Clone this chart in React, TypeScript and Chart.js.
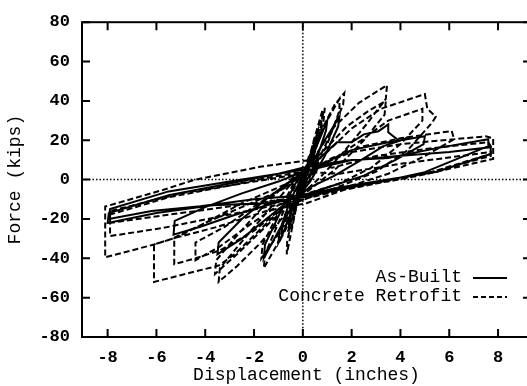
import React, { useEffect, useRef } from 'react';
import { Chart, registerables } from 'chart.js';

Chart.register(...registerables);

// ---- data ----
const xTicks = [-8, -6, -4, -2, 0, 2, 4, 6, 8];
const yTicks = [-80, -60, -40, -20, 0, 20, 40, 60, 80];
const seriesNames = ['As-Built', 'Concrete Retrofit'];
const xTitle = 'Displacement (inches)';
const yTitle = 'Force (kips)';

// As-Built hysteresis path (displacement in, force kips)
const asBuiltPoints: [number, number][] = [
  [0, 0], [0.15, 6], [0.3, 13], [0.28, 10], [0.05, 1], [-0.15, -6], [-0.3, -13], [-0.28, -10], [-0.05, 0],
  [0.15, 5], [0.35, 14], [0.6, 24], [0.57, 20], [0.2, 4], [-0.1, -6], [-0.35, -16], [-0.6, -26], [-0.57, -21], [-0.2, -5], [0.05, 2],
  [0.25, 7], [0.6, 18], [1.0, 30], [0.95, 25], [0.5, 8], [0.05, -3], [-0.4, -14], [-0.8, -27], [-1.0, -32], [-0.95, -26], [-0.5, -10], [0, 2],
  [0.4, 9], [0.9, 20], [1.5, 32], [1.45, 27], [0.9, 12], [0.3, -1], [-0.3, -10], [-0.9, -24], [-1.6, -40], [-1.55, -33], [-0.9, -16], [-0.3, -2], [0.1, 5],
  [0.6, 10], [1.4, 19], [2.0, 19], [2.5, 23], [3.1, 24.6], [3.5, 28], [3.5, 24], [3.95, 19.7], [3.3, 17], [2.4, 10], [1.3, 2], [0.3, -4],
  [-0.5, -10], [-1.5, -20], [-2.5, -30], [-3.5, -38], [-3.45, -32], [-2.5, -20], [-1.3, -8], [-0.3, 1], [0.3, 7],
  [0.8, 8], [2.0, 15], [3.5, 19], [5.0, 22], [4.95, 18], [3.8, 10], [2.5, 2], [1.0, -4], [0, -8],
  [-1.2, -12], [-2.8, -18], [-4.2, -24], [-5.3, -28], [-5.25, -21], [-4, -14], [-2.5, -7], [-1, -1], [0, 4],
  [1.0, 7], [2.0, 10], [3.5, 11], [5.5, 16], [7.6, 20.5], [7.6, 17], [5, 3.8], [3.5, -0.3], [1.5, -5], [0, -9],
  [-1.5, -12], [-3.7, -13], [-6, -17], [-8, -22], [-7.95, -17], [-5.5, -8], [-3, -2], [-1, 3], [0, 6],
  [1.8, 9.7], [3.9, 12], [6.0, 14], [7.7, 16.5], [7.7, 13], [5.5, 4], [3.5, 0], [1.5, -4], [0, -8],
  [-2, -10], [-4.2, -13.5], [-6.2, -16], [-7.95, -20], [-7.9, -15], [-5.5, -6], [-3, -1], [-1, 3], [0, 5],
];

// Concrete Retrofit hysteresis path
const retrofitPoints: [number, number][] = [
  [0, 0], [0.12, 6], [0.25, 12], [0.24, 9], [0.05, 1], [-0.1, -5], [-0.25, -12], [-0.24, -9], [-0.05, 0],
  [0.1, 4], [0.3, 13], [0.5, 22], [0.48, 18], [0.1, 2], [-0.15, -7], [-0.45, -24], [-0.43, -20], [-0.1, -1],
  [0.15, 5], [0.45, 20], [0.8, 35], [0.78, 29], [0.4, 12], [0.05, -2], [-0.3, -16], [-0.66, -38], [-0.64, -31], [-0.3, -13], [0, 2],
  [0.3, 8], [0.9, 36.5], [0.85, 30], [0.4, 10], [0, -3], [-0.4, -18], [-0.9, -30], [-0.85, -24], [-0.3, -6], [0, 2],
  [0.25, 8], [0.8, 26], [1.3, 38], [1.7, 44], [1.65, 38], [1.1, 22], [0.4, 4], [0, -5], [-0.5, -18], [-1.1, -34], [-1.6, -45], [-1.55, -38], [-1.0, -22], [-0.35, -4], [0, 4],
  [0.3, 9], [0.9, 28], [1.5, 41], [1.5, 35], [1.0, 18], [0.35, 1], [-0.2, -9], [-0.9, -26], [-1.7, -40], [-1.65, -33], [-1.0, -17], [-0.3, 0], [0.1, 6],
  [0.5, 12], [1.3, 27], [2.3, 39], [3.45, 48], [3.4, 41], [2.6, 28], [1.6, 13], [0.7, 1], [0, -7],
  [-0.8, -19], [-1.8, -33], [-2.7, -44], [-3.45, -52], [-3.4, -45], [-2.4, -30], [-1.3, -14], [-0.4, -1], [0.2, 7],
  [0.8, 14], [1.8, 27], [2.7, 35], [3.4, 40], [3.35, 33], [2.5, 20], [1.4, 6], [0.4, -4],
  [-0.6, -13], [-1.7, -26], [-2.7, -38], [-3.6, -48], [-3.55, -41], [-2.6, -27], [-1.5, -12], [-0.5, 0], [0.2, 6],
  [1.0, 14], [2.0, 26], [3.2, 36], [5.0, 43.5], [5.1, 36], [5.45, 32], [5.3, 29], [4.3, 15], [3.0, 4], [1.6, -3], [0.3, -9],
  [-0.8, -14], [-2.0, -26], [-3.4, -36], [-4.4, -40], [-5.27, -43], [-5.27, -29.5], [-4.0, -22], [-2.5, -12], [-1.0, -4], [0, 2],
  [1.2, 10], [2.4, 20], [3.5, 30], [4.9, 36], [4.9, 30], [4.0, 18], [2.8, 6], [1.5, -2], [0.2, -7],
  [-1.0, -13], [-2.3, -24], [-3.4, -34], [-4.4, -41], [-4.4, -32], [-3.2, -24], [-1.8, -12], [-0.5, -2], [0.2, 4],
  [1.2, 11], [2.5, 17], [4.0, 21], [6.1, 24.7], [6.2, 20.5], [5.0, 12], [3.5, 3], [2.0, -3], [0.5, -8],
  [-0.8, -14], [-1.8, -26], [-2.8, -38], [-3.45, -43.7], [-6.1, -52], [-6.1, -33], [-5.2, -29.5], [-4.0, -22], [-2.5, -14], [-1.0, -6], [0, 1],
  [1.0, 9], [2.0, 14], [4.0, 18], [7.5, 22], [7.8, 21], [7.8, 10.5], [4.75, 2], [3.5, -1], [2.4, -2], [0.15, -12],
  [-1.5, -16], [-3.5, -24], [-5.2, -29.5], [-6.1, -33], [-8.1, -39.5], [-8.1, -13.7], [-5.74, -5.3], [-4.5, -0.3], [-1.76, 6.5], [0.15, 9.7],
  [1.2, 6], [3.0, 12], [5.3, 16], [7.6, 19], [7.7, 17], [7.7, 13], [5.3, 4], [3, -2], [1, -7], [0, -10],
  [-1.5, -14], [-3.5, -19], [-5.7, -24.5], [-7.9, -28.7], [-7.9, -17.8], [-5.5, -9], [-3, -3], [-1, 2], [0, 4],
  [1.5, 3], [4, 8], [7.7, 14], [7.7, 12], [5, 3], [2.5, -3], [0.5, -8],
  [-2, -12], [-5, -17], [-7.9, -22], [-7.9, -16], [-5, -7], [-2.5, -2], [0, 3],
];

// ---- layout ----
const W = 540;
const H = 386;
const FONT = '"Liberation Mono", "DejaVu Sans Mono", monospace';
const DASH = [6, 3];
const LINE_W = 2;

const framePlugin = {
  id: 'frame',
  beforeDatasetsDraw(chart: any) {
    const { ctx, chartArea, scales } = chart;
    const { left, right, top, bottom } = chartArea;
    const x0 = scales.x.getPixelForValue(0);
    const y0 = scales.y.getPixelForValue(0);
    ctx.save();
    ctx.strokeStyle = '#000';
    ctx.lineWidth = 1.5;
    ctx.setLineDash([1.5, 2]);
    ctx.beginPath();
    ctx.moveTo(x0, top);
    ctx.lineTo(x0, bottom);
    ctx.moveTo(left, y0);
    ctx.lineTo(right, y0);
    ctx.stroke();
    ctx.restore();
  },
  afterDraw(chart: any) {
    const { ctx, chartArea, scales } = chart;
    const { left, right, top, bottom } = chartArea;
    ctx.save();
    ctx.strokeStyle = '#000';
    ctx.lineWidth = 2;
    ctx.setLineDash([]);
    ctx.strokeRect(left, top, right - left, bottom - top);
    ctx.beginPath();
    const tl = 8;
    for (const v of xTicks) {
      const px = scales.x.getPixelForValue(v);
      ctx.moveTo(px, bottom);
      ctx.lineTo(px, bottom - tl);
      ctx.moveTo(px, top);
      ctx.lineTo(px, top + tl);
    }
    for (const v of yTicks) {
      const py = scales.y.getPixelForValue(v);
      ctx.moveTo(left, py);
      ctx.lineTo(left + tl, py);
      ctx.moveTo(right, py);
      ctx.lineTo(right - tl, py);
    }
    ctx.stroke();

    // legend
    const textRight = 462;
    const lineX1 = 473;
    const lineX2 = 507;
    const rows = [
      { name: seriesNames[0], y: 277, dash: [] as number[] },
      { name: seriesNames[1], y: 296, dash: [5, 3] },
    ];
    ctx.font = `18px ${FONT}`;
    ctx.fillStyle = '#000';
    ctx.textAlign = 'right';
    ctx.textBaseline = 'middle';
    for (const r of rows) {
      ctx.fillText(r.name, textRight, r.y);
      ctx.beginPath();
      ctx.lineWidth = 1.8;
      ctx.setLineDash(r.dash);
      ctx.moveTo(lineX1, r.y + 1);
      ctx.lineTo(lineX2, r.y + 1);
      ctx.stroke();
    }
    ctx.restore();
  },
};

export default function App() {
  const ref = useRef<HTMLCanvasElement | null>(null);

  useEffect(() => {
    if (!ref.current) return;
    const chart = new Chart(ref.current, {
      type: 'scatter',
      data: {
        datasets: [
          {
            label: seriesNames[0],
            data: asBuiltPoints.map(([x, y]) => ({ x, y })),
            showLine: true,
            borderColor: '#000',
            borderWidth: LINE_W,
            pointRadius: 0,
            tension: 0,
            fill: false,
          },
          {
            label: seriesNames[1],
            data: retrofitPoints.map(([x, y]) => ({ x, y })),
            showLine: true,
            borderColor: '#000',
            borderWidth: LINE_W,
            borderDash: DASH,
            pointRadius: 0,
            tension: 0,
            fill: false,
          },
        ],
      },
      options: {
        animation: false,
        responsive: false,
        devicePixelRatio: 1,
        layout: { padding: { top: 18, right: 9, left: 0, bottom: 0 } },
        plugins: {
          legend: { display: false },
          tooltip: { enabled: false },
        },
        events: [],
        scales: {
          x: {
            type: 'linear',
            min: -9.05,
            max: 9.35,
            afterBuildTicks: (s: any) => {
              s.ticks = xTicks.map((v) => ({ value: v }));
            },
            afterFit: (s: any) => {
              s.height = 49;
            },
            grid: { display: false, drawTicks: false },
            border: { display: false },
            ticks: {
              color: '#000',
              padding: 11,
              maxRotation: 0,
              autoSkip: false,
              font: { family: FONT, size: 17, weight: 'bold' },
            },
            title: {
              display: true,
              text: xTitle,
              color: '#000',
              font: { family: FONT, size: 18 },
              padding: { top: 0, bottom: 0 },
            },
          },
          y: {
            type: 'linear',
            min: -80,
            max: 80,
            afterBuildTicks: (s: any) => {
              s.ticks = yTicks.map((v) => ({ value: v }));
            },
            afterFit: (s: any) => {
              s.width = 82;
            },
            grid: { display: false, drawTicks: false },
            border: { display: false },
            ticks: {
              color: '#000',
              padding: 12,
              autoSkip: false,
              font: { family: FONT, size: 17, weight: 'bold' },
            },
            title: {
              display: true,
              text: yTitle,
              color: '#000',
              font: { family: FONT, size: 18 },
              padding: { top: 4, bottom: 0 },
            },
          },
        },
      } as any,
      plugins: [framePlugin],
    });
    return () => chart.destroy();
  }, []);

  return (
    <div style={{ position: 'fixed', left: 0, top: 0, width: W, height: H, overflow: 'hidden', background: '#fff' }}>
      <canvas ref={ref} width={W} height={H} style={{ display: 'block', width: W, height: H }} />
    </div>
  );
}
